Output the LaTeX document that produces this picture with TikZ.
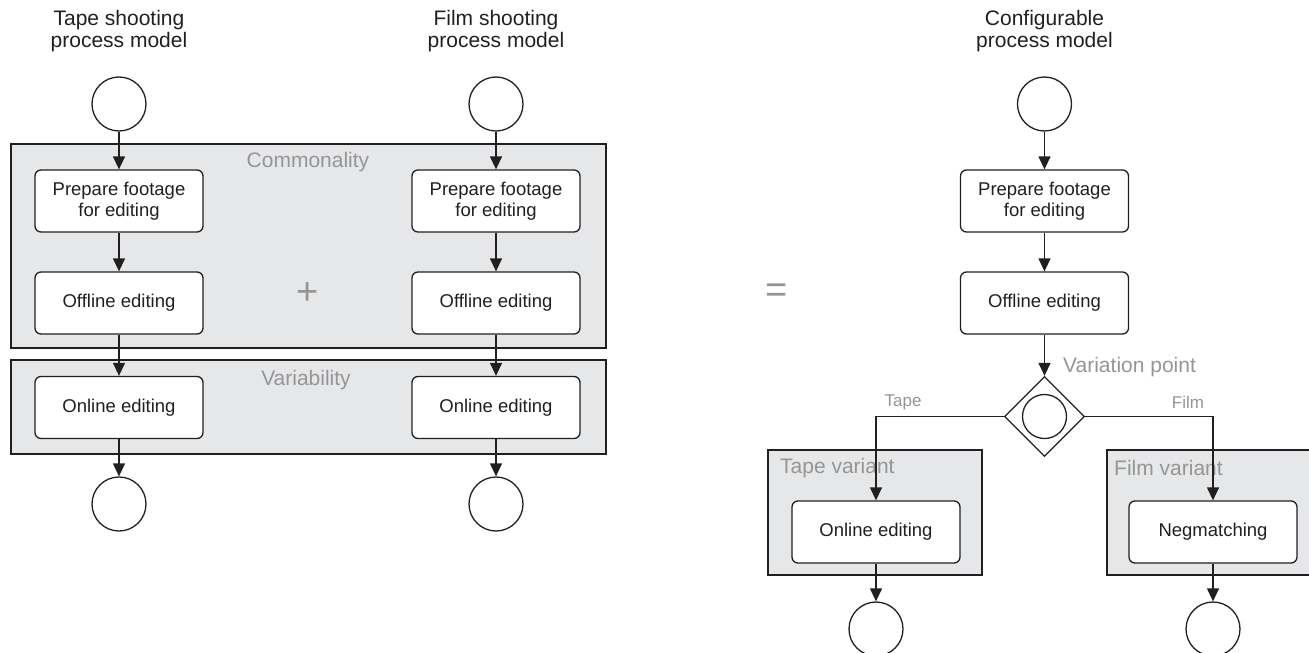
\documentclass[tikz,border=0pt]{standalone}
\usepackage{fontspec}
\setmainfont{Liberation Sans}
\usetikzlibrary{shapes.geometric,arrows.meta}
\definecolor{groupfill}{HTML}{E6E7E9}
\definecolor{linecol}{HTML}{231F20}
\definecolor{graytext}{HTML}{959595}
\tikzset{
  grp/.style={fill=groupfill,draw=linecol,line width=1.3pt},
  task/.style={draw=linecol,fill=white,line width=1.3pt,rounded corners=6pt,
    minimum width=168pt,minimum height=62pt,align=center,inner sep=2pt,
    text=linecol,font=\fontsize{18.5}{21}\selectfont},
  evt/.style={circle,draw=linecol,fill=white,line width=1.3pt,minimum size=54pt,inner sep=0pt},
  ttl/.style={align=center,text=linecol,font=\fontsize{21}{21.5}\selectfont},
  glabel/.style={text=graytext,font=\fontsize{21}{24}\selectfont,inner sep=0pt},
  slabel/.style={text=graytext,font=\fontsize{17}{20}\selectfont,inner sep=0pt},
  flow/.style={draw=linecol,line width=1.3pt,-{Triangle[width=12pt,length=13pt]}},
}
\begin{document}
\begin{tikzpicture}[x=1pt,y=-1pt]
\useasboundingbox (0,0) rectangle (1309,653);
% groups
\path[grp] (11,144) rectangle (606,348);
\path[grp] (11,360) rectangle (606,454);
\path[grp] (768,450) rectangle (982,575);
\path[grp] (1107,450) rectangle (1312,575);
\node[glabel] (lcom) at (308,162) {Commonality};
\node[glabel] (lvar) at (306,380) {Variability};
\node[glabel,anchor=west] (ltv) at (780,468) {Tape variant};
\node[glabel,anchor=west] (lfv) at (1114,468) {Film variant};
\node[text=graytext,font=\fontsize{38}{38}\selectfont,inner sep=0pt] (plus) at (308,294) {+};
\node[text=graytext,font=\fontsize{38}{38}\selectfont,inner sep=0pt] (eq) at (777,293) {=};
% titles
\node[ttl] (tA) at (119,31) {Tape shooting\\process model};
\node[ttl] (tB) at (496,31) {Film shooting\\process model};
\node[ttl] (tC) at (1044.5,31) {Configurable\\process model};
% column A
\node[evt] (sA) at (119,104) {};
\node[task] (pA) at (119,201) {Prepare footage\\for editing};
\node[task] (oA) at (119,303) {Offline editing};
\node[task] (nA) at (119,407.5) {Online editing};
\node[evt] (eA) at (119,504) {};
% column B
\node[evt] (sB) at (496,104) {};
\node[task] (pB) at (496,201) {Prepare footage\\for editing};
\node[task] (oB) at (496,303) {Offline editing};
\node[task] (nB) at (496,407.5) {Online editing};
\node[evt] (eB) at (496,504) {};
% column C
\node[evt] (sC) at (1044.5,104) {};
\node[task] (pC) at (1044.5,201) {Prepare footage\\for editing};
\node[task] (oC) at (1044.5,303) {Offline editing};
\node[diamond,draw=linecol,fill=white,line width=1.3pt,minimum width=80pt,minimum height=80pt,inner sep=0pt] (vp) at (1044.5,416.5) {};
\node[circle,draw=linecol,line width=1.3pt,minimum size=44pt,inner sep=0pt] (vpc) at (vp.center) {};
\node[glabel,anchor=west] (lvp) at (1063,367) {Variation point};
\node[slabel] (ltape) at (903,402) {Tape};
\node[slabel] (lfilm) at (1188,402) {Film};
\node[task] (nC) at (876,532) {Online editing};
\node[task] (mC) at (1213,532) {Negmatching};
\node[evt] (eC1) at (876,629) {};
\node[evt] (eC2) at (1213,629) {};
% flows
\draw[flow] (sA) -- (pA);
\draw[flow] (pA) -- (oA);
\draw[flow] (oA) -- (nA);
\draw[flow] (nA) -- (eA);
\draw[flow] (sB) -- (pB);
\draw[flow] (pB) -- (oB);
\draw[flow] (oB) -- (nB);
\draw[flow] (nB) -- (eB);
\draw[flow] (sC) -- (pC);
\draw[flow] (pC) -- (oC);
\draw[flow] (oC) -- (vp.north);
\draw[flow] (vp.west) -| (nC.north);
\draw[flow] (vp.east) -| (mC.north);
\draw[flow] (nC) -- (eC1);
\draw[flow] (mC) -- (eC2);
\end{tikzpicture}
\end{document}
